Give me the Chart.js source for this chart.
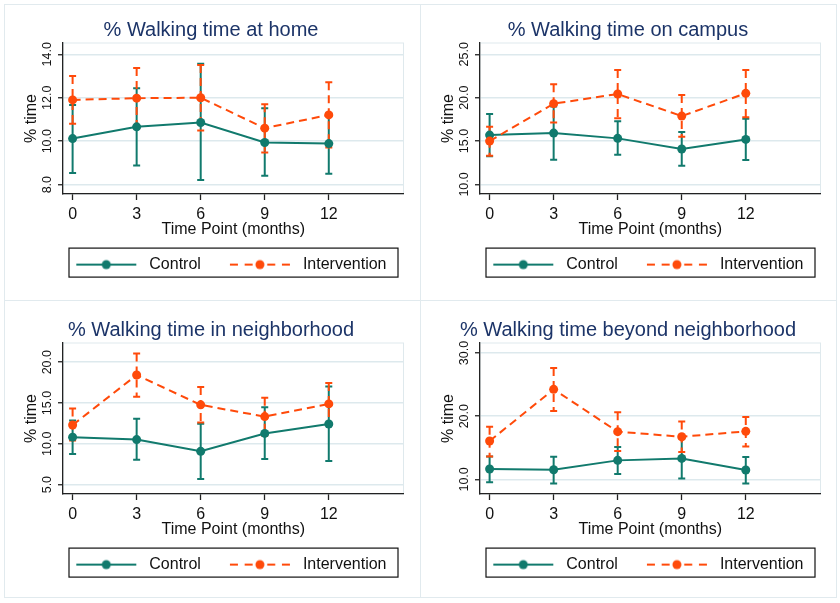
<!DOCTYPE html>
<html>
<head>
<meta charset="utf-8">
<title>% Walking time by location</title>
<script src="https://cdn.jsdelivr.net/npm/chart.js@4.4.1/dist/chart.umd.min.js"></script>
<style>
  body { margin: 0; background: #fff; }
  #page { position: relative; width: 840px; height: 603px; background: #fff; overflow: hidden; }
  .frame { position: absolute; box-sizing: border-box; border: 1px solid #e1eaee; }
  canvas { position: absolute; }
</style>
</head>
<body>
<div id="page">
  <div class="frame" style="left:4px;top:4px;width:417px;height:297px"></div>
  <div class="frame" style="left:420px;top:4px;width:417px;height:297px"></div>
  <div class="frame" style="left:4px;top:300px;width:417px;height:298px"></div>
  <div class="frame" style="left:420px;top:300px;width:417px;height:298px"></div>
  <canvas id="home" width="416" height="300" style="left:3px;top:0"></canvas>
  <canvas id="campus" width="416" height="300" style="left:420px;top:0"></canvas>
  <canvas id="neighborhood" width="416" height="300" style="left:3px;top:300px"></canvas>
  <canvas id="beyond" width="416" height="300" style="left:420px;top:300px"></canvas>
</div>
<script>
// time points (months) and axis ticks
var timePoints = [0, 3, 6, 9, 12];
var xTicks = [0, 3, 6, 9, 12];

// % walking time at home
var homeControl = [10.12, 10.66, 10.86, 9.94, 9.89];
var homeControlLo = [8.54, 8.88, 8.22, 8.41, 8.50];
var homeControlHi = [11.67, 12.44, 13.56, 11.52, 11.28];
var homeInterv = [11.90, 11.98, 12.00, 10.60, 11.21];
var homeIntervLo = [10.80, 10.60, 10.49, 9.48, 9.71];
var homeIntervHi = [13.00, 13.37, 13.51, 11.70, 12.71];
var homeTicks = [8, 10, 12, 14];

// % walking time on campus
var campusControl = [15.69, 15.92, 15.31, 14.08, 15.19];
var campusControlLo = [13.26, 12.85, 13.42, 12.15, 12.81];
var campusControlHi = [18.12, 18.99, 17.27, 16.04, 17.58];
var campusInterv = [15.00, 19.31, 20.42, 17.88, 20.50];
var campusIntervLo = [13.31, 17.15, 17.62, 15.50, 17.73];
var campusIntervHi = [16.65, 21.54, 23.19, 20.31, 23.19];
var campusTicks = [10, 15, 20, 25];

// % walking time in neighborhood
var neighControl = [10.81, 10.52, 9.08, 11.27, 12.42];
var neighControlLo = [8.75, 8.05, 5.70, 8.13, 7.88];
var neighControlHi = [12.87, 13.08, 12.46, 14.48, 17.03];
var neighInterv = [12.30, 18.43, 14.77, 13.33, 14.89];
var neighIntervLo = [10.40, 15.76, 12.62, 11.00, 12.34];
var neighIntervHi = [14.31, 21.07, 16.95, 15.64, 17.44];
var neighTicks = [5, 10, 15, 20];

// % walking time beyond neighborhood
var beyondControl = [11.64, 11.53, 13.01, 13.32, 11.48];
var beyondControlLo = [9.53, 9.37, 10.87, 10.16, 9.37];
var beyondControlHi = [13.64, 13.59, 15.12, 16.48, 13.54];
var beyondInterv = [16.07, 24.25, 17.55, 16.75, 17.60];
var beyondIntervLo = [13.64, 20.82, 14.49, 14.33, 15.22];
var beyondIntervHi = [18.34, 27.63, 20.61, 19.18, 19.87];
var beyondTicks = [10, 20, 30];

var teal = '#117a6d';
var red = '#ff4a0a';

Chart.defaults.font.family = "'Liberation Sans', Arial, sans-serif";
Chart.defaults.color = '#111';

// petit symbole ligne + point pour la légende
function legendSymbol(color, dashed) {
    var c = document.createElement('canvas');
    c.width = 77;
    c.height = 16;
    var g = c.getContext('2d');
    g.strokeStyle = color;
    g.lineWidth = 2;
    if (dashed) {
        g.setLineDash([8, 6.7]);
        g.beginPath(); g.moveTo(12, 8); g.lineTo(42, 8); g.stroke();
        g.beginPath(); g.moveTo(72, 8); g.lineTo(42, 8); g.stroke();
    } else {
        g.beginPath(); g.moveTo(12, 8); g.lineTo(72, 8); g.stroke();
    }
    g.fillStyle = color;
    g.beginPath(); g.arc(42, 8, 4.5, 0, Math.PI * 2); g.fill();
    return c;
}
var symbols = [legendSymbol(teal, false), legendSymbol(red, true)];

// intervalles de confiance (caps)
var errorBars = {
    id: 'errorBars',
    beforeDatasetsDraw: function (chart) {
        var ctx = chart.ctx;
        var xs = chart.scales.x, ys = chart.scales.y;
        chart.data.datasets.forEach(function (ds) {
            ctx.save();
            ctx.strokeStyle = ds.borderColor;
            ctx.lineWidth = 2;
            ds.data.forEach(function (pt, i) {
                var px = xs.getPixelForValue(pt.x);
                var top = ys.getPixelForValue(ds.errHi[i]);
                var bot = ys.getPixelForValue(ds.errLo[i]);
                ctx.setLineDash(ds.borderDash || []);
                ctx.beginPath(); ctx.moveTo(px, top); ctx.lineTo(px, bot); ctx.stroke();
                ctx.setLineDash([]);
                ctx.beginPath();
                ctx.moveTo(px - 3.5, top); ctx.lineTo(px + 3.5, top);
                ctx.moveTo(px - 3.5, bot); ctx.lineTo(px + 3.5, bot);
                ctx.stroke();
            });
            ctx.restore();
        });
    }
};

var plotFrame = {
    id: 'plotFrame',
    beforeDraw: function (chart) {
        var a = chart.chartArea, ctx = chart.ctx;
        ctx.save();
        ctx.strokeStyle = '#dfe9ed';
        ctx.lineWidth = 1;
        ctx.strokeRect(a.left, a.top, a.right - a.left, a.bottom - a.top);
        ctx.restore();
    }
};

var legendBox = {
    id: 'legendBox',
    afterDraw: function (chart) {
        var a = chart.chartArea, lg = chart.legend, ctx = chart.ctx;
        ctx.save();
        ctx.strokeStyle = '#111';
        ctx.lineWidth = 1.2;
        ctx.strokeRect(a.left + 6, lg.top + 8.5, a.right - a.left - 11.5, 29);
        ctx.restore();
    }
};

function points(values) {
    return timePoints.map(function (t, i) { return { x: t, y: values[i] }; });
}

function makePanel(id, title, yMin, yMax, yTicks, ctrl, ctrlLo, ctrlHi, intv, intvLo, intvHi) {
    var ctx = document.getElementById(id).getContext('2d');
    return new Chart(ctx, {
        type: 'line',
        data: {
            datasets: [{
                label: 'Control',
                data: points(ctrl),
                errLo: ctrlLo,
                errHi: ctrlHi,
                borderColor: teal,
                backgroundColor: teal,
                borderWidth: 2,
                pointRadius: 4.5,
                pointBackgroundColor: teal,
                pointBorderColor: teal,
                pointBorderWidth: 0,
                order: 1
            }, {
                label: 'Intervention',
                data: points(intv),
                errLo: intvLo,
                errHi: intvHi,
                borderColor: red,
                backgroundColor: red,
                borderWidth: 2,
                borderDash: [8, 5],
                pointRadius: 4.5,
                pointBackgroundColor: red,
                pointBorderColor: red,
                pointBorderWidth: 0,
                order: 0
            }]
        },
        options: {
            responsive: false,
            animation: false,
            devicePixelRatio: 1,
            events: [],
            layout: { padding: { top: 0, left: 15.5, right: 15.5, bottom: 17.4 } },
            scales: {
                x: {
                    type: 'linear',
                    min: -0.45,
                    max: 15.5,
                    afterBuildTicks: function (s) { s.ticks = xTicks.map(function (v) { return { value: v }; }); },
                    afterFit: function (s) { s.height = 45.6; },
                    ticks: {
                        autoSkip: false, maxRotation: 0, padding: 5,
                        font: { size: 16 }, color: '#111',
                        callback: function (v) { return String(v); }
                    },
                    grid: { drawOnChartArea: false, tickLength: 6, tickColor: '#222', tickWidth: 1.3 },
                    border: { color: '#222', width: 1.3 },
                    title: { display: true, text: 'Time Point (months)', font: { size: 16 }, color: '#111', padding: { top: 0, bottom: 0 } }
                },
                y: {
                    type: 'linear',
                    min: yMin,
                    max: yMax,
                    afterBuildTicks: function (s) { s.ticks = yTicks.map(function (v) { return { value: v }; }); },
                    afterFit: function (s) { s.width = 44.5; },
                    ticks: {
                        minRotation: 90, maxRotation: 90, crossAlign: 'center', padding: -2,
                        font: { size: 12.5 }, color: '#111',
                        callback: function (v) { return v.toFixed(1); }
                    },
                    grid: { color: '#dde9ed', lineWidth: 1.5, tickLength: 5, tickColor: '#222', tickWidth: 1.3 },
                    border: { color: '#222', width: 1.3 },
                    title: { display: true, text: '% time', font: { size: 16 }, color: '#111', padding: { top: 3.5, bottom: 0 } }
                }
            },
            plugins: {
                tooltip: { enabled: false },
                title: {
                    display: true,
                    text: title,
                    color: '#1c3468',
                    font: { size: 20, weight: 'normal' },
                    padding: { top: 18, bottom: 1 }
                },
                legend: {
                    position: 'bottom',
                    align: 'end',
                    labels: {
                        usePointStyle: true,
                        pointStyleWidth: 77,
                        padding: 17,
                        font: { size: 16 },
                        color: '#111',
                        sort: function (a, b) { return a.datasetIndex - b.datasetIndex; },
                        generateLabels: function (chart) {
                            var items = Chart.defaults.plugins.legend.labels.generateLabels(chart);
                            items.forEach(function (it) { it.pointStyle = symbols[it.datasetIndex]; });
                            return items;
                        }
                    }
                }
            }
        },
        plugins: [plotFrame, errorBars, legendBox]
    });
}

makePanel('home', '% Walking time at home', 7.57, 14.52, homeTicks,
    homeControl, homeControlLo, homeControlHi, homeInterv, homeIntervLo, homeIntervHi);
makePanel('campus', '% Walking time on campus', 8.9, 26.3, campusTicks,
    campusControl, campusControlLo, campusControlHi, campusInterv, campusIntervLo, campusIntervHi);
makePanel('neighborhood', '% Walking time in neighborhood', 3.85, 22.35, neighTicks,
    neighControl, neighControlLo, neighControlHi, neighInterv, neighIntervLo, neighIntervHi);
makePanel('beyond', '% Walking time beyond neighborhood', 7.69, 31.58, beyondTicks,
    beyondControl, beyondControlLo, beyondControlHi, beyondInterv, beyondIntervLo, beyondIntervHi);
</script>
</body>
</html>
